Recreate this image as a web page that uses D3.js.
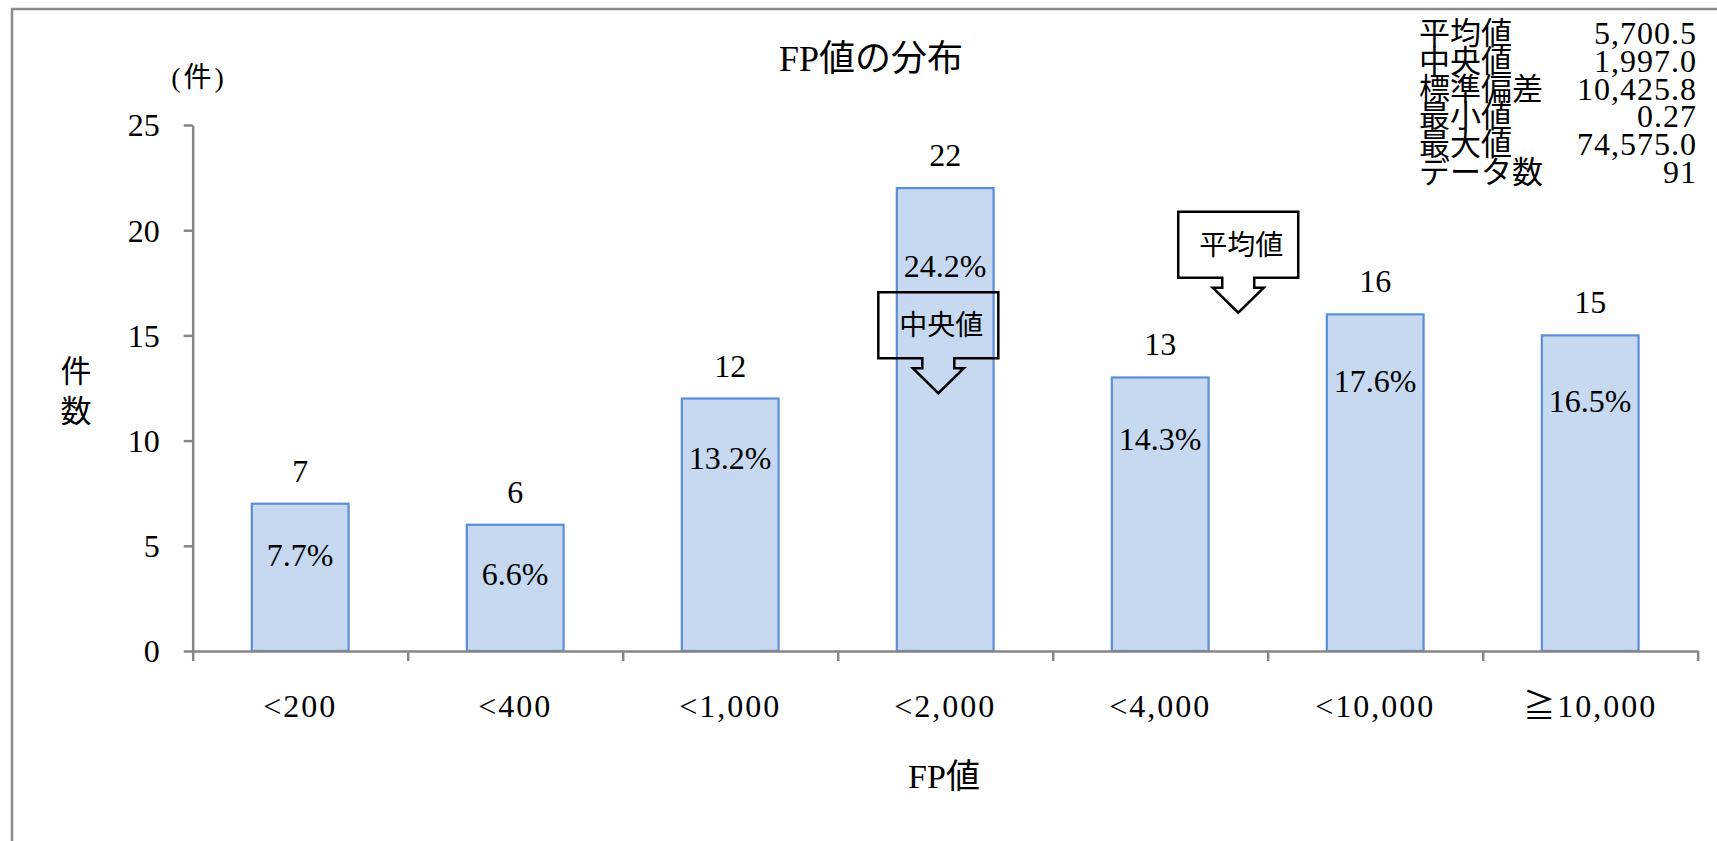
<!DOCTYPE html>
<html lang="ja">
<head>
<meta charset="utf-8">
<title>FP値の分布</title>
<script src="https://cdn.jsdelivr.net/npm/d3@7"></script>
<style>
  html, body { margin: 0; padding: 0; background: #ffffff; }
  svg { display: block; }
  text { font-family: "Liberation Serif", "Noto Sans CJK JP", serif; fill: #000; }
</style>
</head>
<body>
<svg id="chart" width="1717" height="841"></svg>
<script>
// ---- data ----
const categories = ["<200", "<400", "<1,000", "<2,000", "<4,000", "<10,000", "≧10,000"];
const counts = [7, 6, 12, 22, 13, 16, 15];
const shares = ["7.7%", "6.6%", "13.2%", "24.2%", "14.3%", "17.6%", "16.5%"];
const yTicks = [0, 5, 10, 15, 20, 25];
const statLabels = ["平均値", "中央値", "標準偏差", "最小値", "最大値", "データ数"];
const statValues = ["5,700.5", "1,997.0", "10,425.8", "0.27", "74,575.0", "91"];
const markerLabels = ["中央値", "平均値"];

// ---- layout ----
const W = 1717, H = 841;
const plot = { left: 192.7, right: 1697.7, top: 125, bottom: 651 };
const axisColor = "#868686";
const barFill = "#c6d9f1";
const barStroke = "#5a8ed6";

const svg = d3.select("#chart");

// outer chart frame (only its left and top edges fall inside the view)
svg.append("rect")
  .attr("x", 12).attr("y", 9)
  .attr("width", W + 40).attr("height", H + 40)
  .attr("fill", "none").attr("stroke", "#8c8c8c").attr("stroke-width", 2.5);

const x = d3.scaleBand()
  .domain(categories)
  .range([plot.left, plot.right])
  .paddingInner(0.55)
  .paddingOuter(0.275);

// category boundaries (used for the axis tick marks and annotation placement)
const xEdge = d3.scaleLinear()
  .domain([0, categories.length])
  .range([plot.left, plot.right]);

const y = d3.scaleLinear()
  .domain([0, 25])
  .range([plot.bottom, plot.top]);

// ---- bars ----
svg.append("g").selectAll("rect")
  .data(counts)
  .join("rect")
  .attr("x", (d, i) => x(categories[i]))
  .attr("y", d => y(d))
  .attr("width", x.bandwidth())
  .attr("height", d => y(0) - y(d))
  .attr("fill", barFill)
  .attr("stroke", barStroke)
  .attr("stroke-width", 2.2);

// ---- y axis ----
const yAxis = svg.append("g")
  .attr("transform", `translate(${plot.left},0)`)
  .call(d3.axisLeft(y).tickValues(yTicks).tickSize(9).tickSizeOuter(0).tickPadding(24));
yAxis.select(".domain").attr("stroke", axisColor).attr("stroke-width", 2.5);
yAxis.selectAll(".tick line").attr("stroke", axisColor).attr("stroke-width", 2.5);
yAxis.selectAll(".tick text")
  .attr("font-family", "Liberation Serif")
  .attr("font-size", 32)
  .attr("dy", "0.34em");

// ---- x axis: boundary tick marks ----
const xTicks = svg.append("g")
  .attr("transform", `translate(0,${plot.bottom})`)
  .call(d3.axisBottom(xEdge).tickValues(d3.range(categories.length + 1)).tickFormat("").tickSize(10).tickSizeOuter(0));
xTicks.select(".domain").attr("stroke", axisColor).attr("stroke-width", 2.5);
xTicks.selectAll(".tick line").attr("stroke", axisColor).attr("stroke-width", 2.5);

// ---- x axis: category labels ----
const xLabels = svg.append("g")
  .attr("transform", `translate(0,${plot.bottom})`)
  .call(d3.axisBottom(x).tickSize(0).tickPadding(0));
xLabels.select(".domain").remove();
xLabels.selectAll(".tick text")
  .attr("font-family", "Liberation Serif, Noto Sans CJK JP")
  .attr("font-size", 32)
  .attr("letter-spacing", 2)
  .attr("y", 66)
  .attr("dy", 0);

// ---- value labels above bars ----
svg.append("g").selectAll("text")
  .data(counts)
  .join("text")
  .attr("x", (d, i) => x(categories[i]) + x.bandwidth() / 2)
  .attr("y", d => y(d) - 22)
  .attr("text-anchor", "middle")
  .attr("font-size", 32)
  .text(d => d);

// ---- share labels inside bars ----
svg.append("g").selectAll("text")
  .data(counts)
  .join("text")
  .attr("x", (d, i) => x(categories[i]) + x.bandwidth() / 2)
  .attr("y", d => y(d) + 50 + (y(0) - y(d)) * 0.083)
  .attr("text-anchor", "middle")
  .attr("font-size", 32)
  .text((d, i) => shares[i]);

// ---- arrow callouts for median and mean ----
const callouts = [
  { label: markerLabels[0], pos: 3.468, tip: 12.25 },
  { label: markerLabels[1], pos: 4.863, tip: 16.08 }
];
const boxW = 120, boxH = 66, stemHalf = 16, wingHalf = 25.5, stemLen = 10, headLen = 25;
callouts.forEach(c => {
  const tx = xEdge(c.pos), ty = y(c.tip);
  const bottom = ty - headLen - stemLen, top = bottom - boxH;
  const bx0 = tx - boxW / 2, bx1 = tx + boxW / 2;
  const p = d3.path();
  p.moveTo(bx0, top);
  p.lineTo(bx1, top);
  p.lineTo(bx1, bottom);
  p.lineTo(tx + stemHalf, bottom);
  p.lineTo(tx + stemHalf, bottom + stemLen);
  p.lineTo(tx + wingHalf, bottom + stemLen);
  p.lineTo(tx, ty);
  p.lineTo(tx - wingHalf, bottom + stemLen);
  p.lineTo(tx - stemHalf, bottom + stemLen);
  p.lineTo(tx - stemHalf, bottom);
  p.lineTo(bx0, bottom);
  p.closePath();
  svg.append("path")
    .attr("d", p.toString())
    .attr("fill", "none")
    .attr("stroke", "#000")
    .attr("stroke-width", 2.5)
    .attr("stroke-linejoin", "miter");
  svg.append("text")
    .attr("x", tx + 3)
    .attr("y", (top + bottom) / 2 + 10)
    .attr("text-anchor", "middle")
    .attr("font-family", "Noto Sans CJK JP")
    .attr("font-size", 28)
    .text(c.label);
});

// ---- titles ----
svg.append("text")
  .attr("x", 871).attr("y", 71)
  .attr("text-anchor", "middle")
  .attr("font-size", 36)
  .text("FP値の分布");

svg.append("text")
  .attr("x", 944).attr("y", 788)
  .attr("text-anchor", "middle")
  .attr("font-size", 34)
  .text("FP値");

svg.append("text")
  .attr("x", 199).attr("y", 87)
  .attr("text-anchor", "middle")
  .attr("font-size", 28)
  .attr("letter-spacing", 3)
  .text("(件)");

// vertical y-axis title
svg.append("text")
  .attr("font-family", "Noto Sans CJK JP")
  .attr("font-size", 31)
  .attr("text-anchor", "middle")
  .selectAll("tspan")
  .data(["件", "数"])
  .join("tspan")
  .attr("x", 76)
  .attr("y", (d, i) => 382 + i * 40)
  .text(d => d);

// ---- summary statistics ----
const stats = svg.append("g");
stats.selectAll("text.stat-label")
  .data(statLabels)
  .join("text")
  .attr("class", "stat-label")
  .attr("x", 1419)
  .attr("y", (d, i) => 44 + i * 27.8)
  .attr("font-family", "Noto Sans CJK JP")
  .attr("font-size", 31)
  .text(d => d);
stats.selectAll("text.stat-value")
  .data(statValues)
  .join("text")
  .attr("class", "stat-value")
  .attr("x", 1697)
  .attr("y", (d, i) => 44 + i * 27.8)
  .attr("text-anchor", "end")
  .attr("font-family", "Liberation Serif")
  .attr("font-size", 32)
  .attr("letter-spacing", 1)
  .text(d => d);
</script>
</body>
</html>
